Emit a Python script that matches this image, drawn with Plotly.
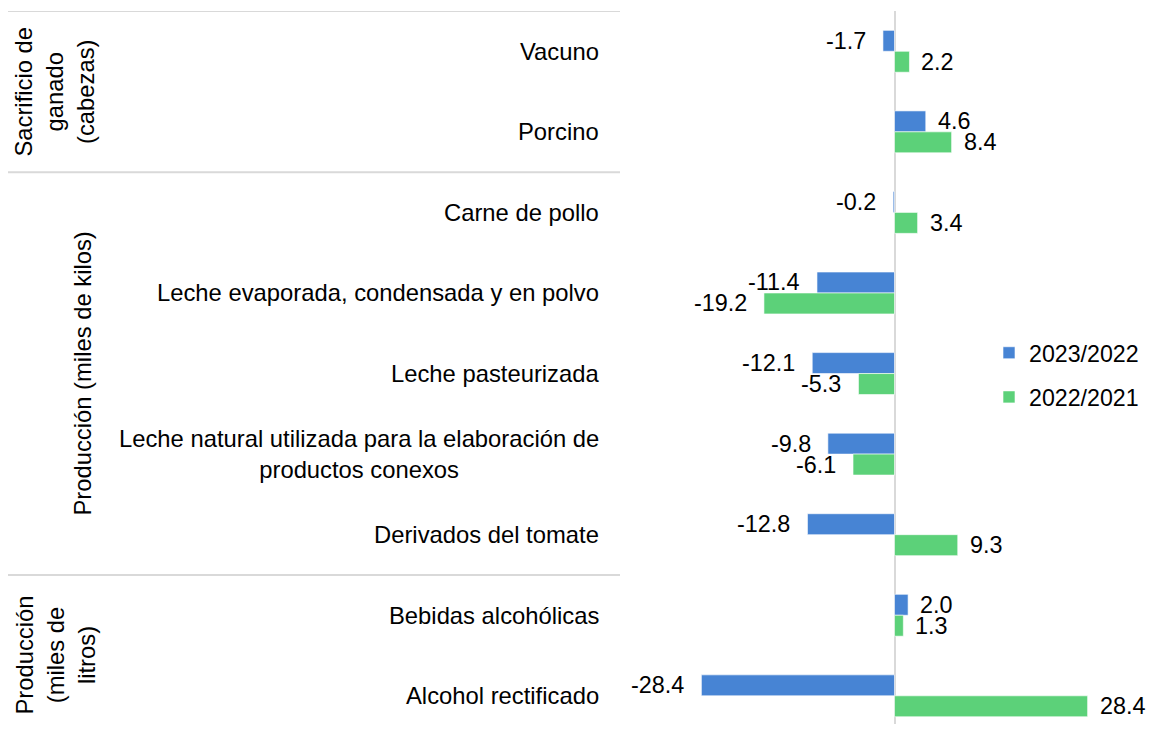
import plotly.graph_objects as go

categories = [
    "Vacuno",
    "Porcino",
    "Carne de pollo",
    "Leche evaporada, condensada y en polvo",
    "Leche pasteurizada",
    "Leche natural utilizada para la elaboración de<br>productos conexos",
    "Derivados del tomate",
    "Bebidas alcohólicas",
    "Alcohol rectificado",
]
series_names = ["2023/2022", "2022/2021"]
values_2023 = [-1.7, 4.6, -0.2, -11.4, -12.1, -9.8, -12.8, 2.0, -28.4]
values_2022 = [2.2, 8.4, 3.4, -19.2, -5.3, -6.1, 9.3, 1.3, 28.4]
groups = [
    ("Sacrificio de<br>ganado<br>(cabezas)", 0, 1),
    ("Producción (miles de kilos)", 2, 6),
    ("Producción<br>(miles de<br>litros)", 7, 8),
]
colors = ["#4784d4", "#5cd179"]

FONT = "Liberation Sans, Arial, sans-serif"
FS = 23.8
FS_VAL = 23.4
OFF = 8  # page body margin
W, H = 1154 - 2 * OFF, 732 - 2 * OFF
L = 610 - OFF
T = 10.7 - OFF
B, R = 0, 0
PW = W - L - R
PH = H - T - B
ZERO = 894.5 - OFF
ROW = 80.6


def px_x(p_screen):
    return (p_screen - OFF - L) / PW


fig = go.Figure()
ys = list(range(len(categories)))
for name, vals, col in zip(series_names, [values_2023, values_2022], colors):
    fig.add_trace(go.Bar(
        y=ys, x=vals, name=name, orientation="h",
        marker=dict(color=col, line=dict(color="rgba(255,255,255,0.6)", width=1)),
        legendgroup=name,
        hoverinfo="x+name",
    ))

annotations = []
for k, vals in enumerate([values_2023, values_2022]):
    ysh = 10.5 if k == 0 else -10.5
    for i, v in enumerate(vals):
        annotations.append(dict(
            x=v, y=i, xref="x", yref="y", text=f"{v:.1f}", showarrow=False,
            xanchor="right" if v < 0 else "left", yanchor="middle",
            xshift=-16 if v < 0 else 11, yshift=ysh, borderpad=0,
            font=dict(family=FONT, size=FS_VAL, color="#000000"),
        ))
for i, c in enumerate(categories):
    annotations.append(dict(
        x=px_x(601), y=i, xref="paper", yref="y", text=c, showarrow=False,
        xanchor="right", yanchor="middle", align="center",
        font=dict(family=FONT, size=FS, color="#000000"),
    ))
gx = [55, 83, 56]
for (g, a, b), x in zip(groups, gx):
    annotations.append(dict(
        x=px_x(x), y=(a + b) / 2, xref="paper", yref="y", text=g, showarrow=False,
        textangle=-90, xanchor="center", yanchor="middle", align="center",
        font=dict(family=FONT, size=FS, color="#000000"),
    ))

shapes = []
for yb in [-0.5, 1.5, 6.5]:
    shapes.append(dict(
        type="line", xref="paper", yref="y", x0=px_x(8), x1=px_x(620), y0=yb, y1=yb,
        line=dict(color="#d9d9d9", width=2),
    ))

scale = 6.8
fig.update_layout(
    width=W, height=H,
    margin=dict(l=L, r=R, t=T, b=B, pad=0),
    paper_bgcolor="white", plot_bgcolor="white",
    barmode="group", bargap=0.48, bargroupgap=0,
    font=dict(family=FONT, size=FS, color="#000000"),
    xaxis=dict(range=[(L - ZERO) / scale, (W - R - ZERO) / scale], showticklabels=False,
               showgrid=False, zeroline=True, zerolinecolor="#d9d9d9", zerolinewidth=2,
               fixedrange=True),
    yaxis=dict(range=[-0.5 + PH / ROW, -0.5], showticklabels=False, showgrid=False,
               zeroline=False, ticks="", fixedrange=True),
    legend=dict(x=px_x(989), y=1 - (331 - OFF - T) / PH, xanchor="left", yanchor="top",
                traceorder="grouped", tracegroupgap=11, bgcolor="rgba(0,0,0,0)",
                font=dict(family=FONT, size=23.2, color="#000000")),
    annotations=annotations,
    shapes=shapes,
)

fig.write_html("out.html")
